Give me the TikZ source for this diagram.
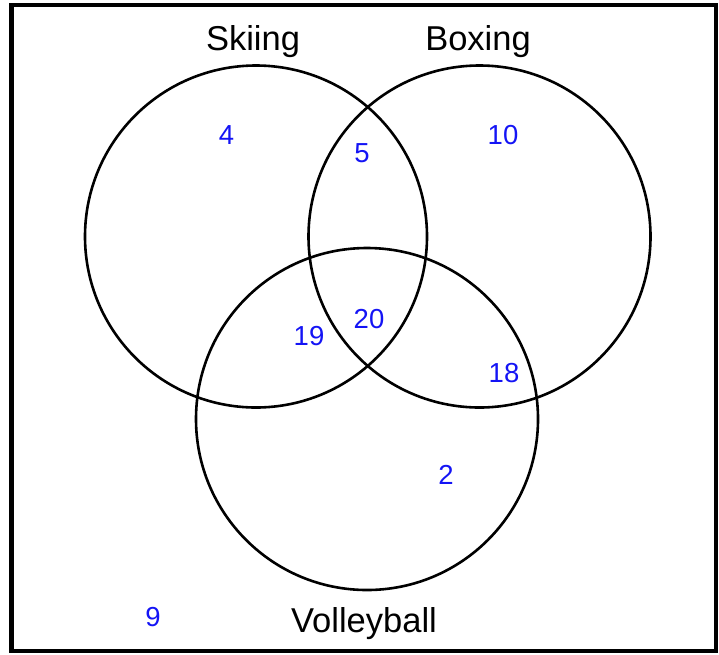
\documentclass[tikz,border=0pt]{standalone}
\usepackage{fontspec}
\setmainfont{Liberation Sans}
\definecolor{numblue}{RGB}{20,20,245}
\begin{document}
\begin{tikzpicture}[x=1pt,y=-1pt,
  setcircle/.style={draw=black,line width=2.6pt},
  setlabel/.style={font=\fontsize{34.5}{40}\selectfont,anchor=base,inner sep=0pt},
  count/.style={font=\fontsize{27.5}{32}\selectfont,text=numblue,inner sep=0pt}]
\useasboundingbox (0,0) rectangle (719,654);
\draw[line width=4.5pt] (11.5,5) rectangle (716,651);
\draw[setcircle] (256,236.5) circle (171);
\draw[setcircle] (479.5,236.5) circle (171);
\draw[setcircle] (367,419) circle (171);
\node[setlabel] (ski) at (253,50) {Skiing};
\node[setlabel] (box) at (478,50) {Boxing};
\node[setlabel] (vol) at (364,632) {Volleyball};
\node[count] (n4) at (226.5,135) {4};
\node[count] (n5) at (362,153) {5};
\node[count] (n10) at (503,135) {10};
\node[count] (n19) at (309,336) {19};
\node[count] (n20) at (369,319) {20};
\node[count] (n18) at (504,373) {18};
\node[count] (n2) at (446,475) {2};
\node[count] (n9) at (153,617) {9};
\end{tikzpicture}
\end{document}
